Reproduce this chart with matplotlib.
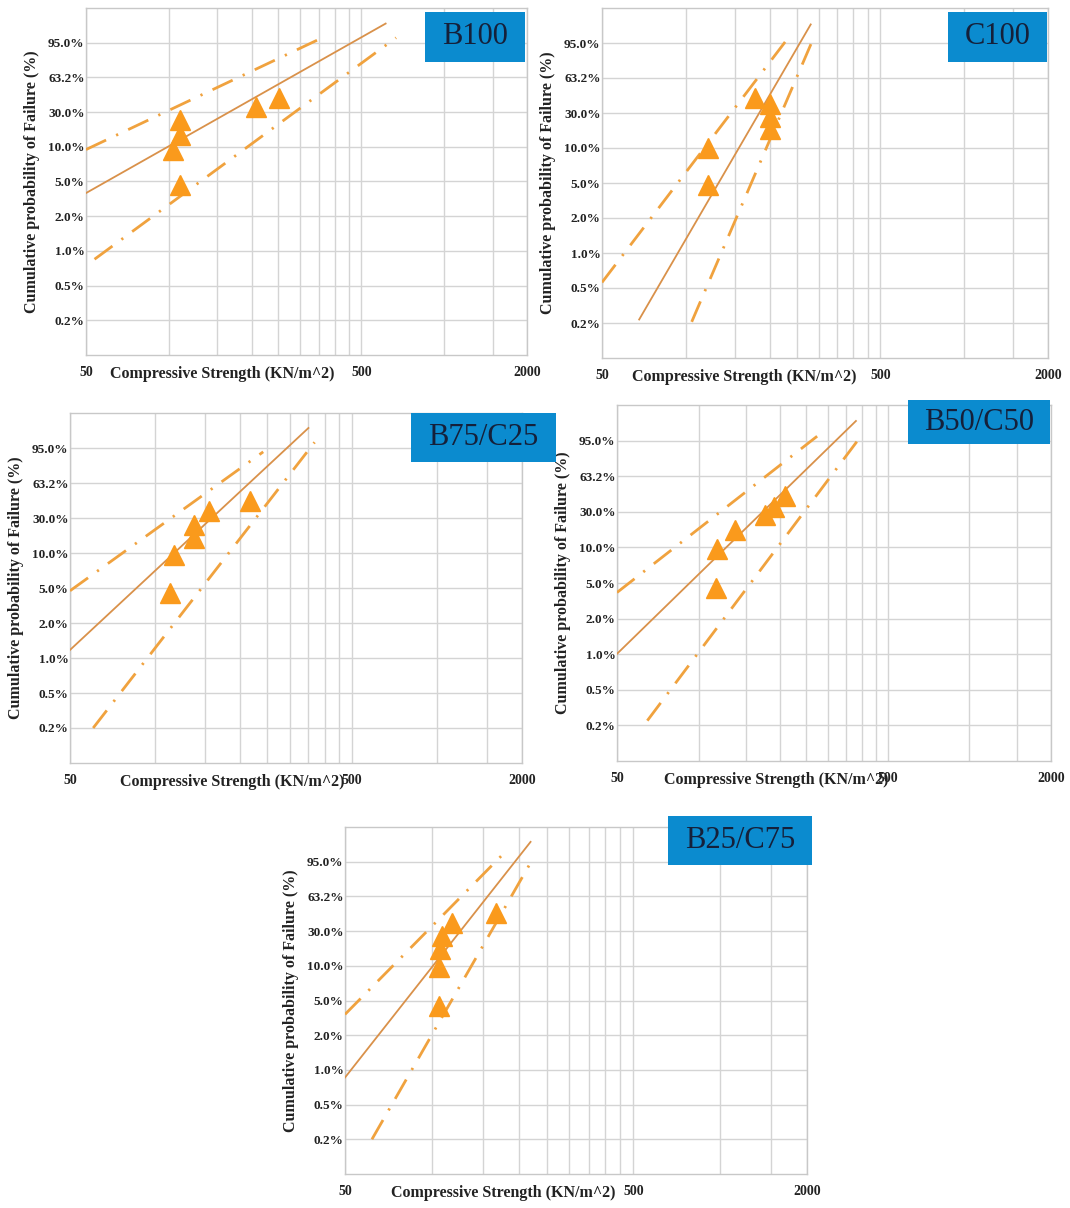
import numpy as np
import matplotlib
matplotlib.use("Agg")
import matplotlib.pyplot as plt
from matplotlib.patches import Rectangle

# probability paper: the labelled levels sit at equal steps on the y axis
prob_ticks = [0.2, 0.5, 1.0, 2.0, 5.0, 10.0, 30.0, 63.2, 95.0]
prob_labels = ["0.2%", "0.5%", "1.0%", "2.0%", "5.0%", "10.0%", "30.0%", "63.2%", "95.0%"]
x_ticks = [50, 500, 2000]
x_grid = [100, 150, 200, 250, 300, 350, 400, 450, 500, 1000, 1500]

# B100
b100_x = [103.7, 109.4, 110.0, 109.6, 206.7, 251.0]
b100_p = [9.5, 16.8, 25.4, 4.7, 35.2, 43.3]
b100_fit_x = [50, 613]
b100_fit_p = [4.0, 97.7]
b100_hi_x = [50, 352]
b100_hi_p = [9.6, 95.5]
b100_lo_x = [53.7, 669]
b100_lo_p = [0.88, 95.7]

# C100
c100_x = [120.3, 120.3, 177.0, 200.0, 200.0, 200.0]
c100_p = [10.0, 4.85, 44.3, 39.0, 27.7, 20.9]
c100_fit_x = [68, 281]
c100_fit_p = [0.23, 97.6]
c100_hi_x = [50, 231]
c100_hi_p = [0.58, 95.5]
c100_lo_x = [105, 287]
c100_lo_p = [0.21, 95.6]

# B75/C25
b75_x = [116.4, 113.3, 137.5, 137.5, 155.7, 217.0]
b75_p = [9.75, 4.57, 18.6, 26.2, 36.3, 45.7]
b75_fit_x = [50, 350]
b75_fit_p = [1.23, 97.8]
b75_hi_x = [50, 242]
b75_hi_p = [4.76, 91.5]
b75_lo_x = [60.4, 368]
b75_lo_p = [0.2, 95.8]

# B50/C50
b50_x = [116.8, 115.8, 136.6, 176.3, 189.3, 208.9]
b50_p = [9.76, 4.58, 20.0, 28.1, 34.7, 44.3]
b50_fit_x = [50, 381]
b50_fit_p = [1.01, 97.7]
b50_hi_x = [50, 274]
b50_hi_p = [4.2, 95.6]
b50_lo_x = [64.7, 403]
b50_lo_p = [0.24, 95.9]

# B25/C75
b25_x = [105.5, 105.5, 106.9, 108.3, 117.3, 166.9]
b25_p = [9.77, 4.55, 19.5, 27.1, 38.0, 47.6]
b25_fit_x = [50, 220]
b25_fit_p = [0.89, 97.8]
b25_hi_x = [50, 175]
b25_hi_p = [3.8, 95.9]
b25_lo_x = [62, 220]
b25_lo_p = [0.2, 94.0]

W, H = 1070, 1208
fig = plt.figure(figsize=(W / 100, H / 100), dpi=100)
fig.patch.set_facecolor("white")

# anchors for the piecewise probability axis (one extra step above and below)
anc_p = [0.05] + prob_ticks + [99.9]
anc_i = list(range(-1, len(prob_ticks) + 1))

def fwd(p):
    return np.interp(p, anc_p, anc_i)

def inv(i):
    return np.interp(i, anc_i, anc_p)

serif = ["Liberation Serif", "DejaVu Serif"]
grid_c = "#d4d4d4"
tri_c = "#fa9a1c"
fit_c = "#d9914a"
band_c = "#f0a23e"

# name, data, axes box (px: x0, y0, x1, y1), label box (px), x label position
panels = [
    ("B100", (b100_x, b100_p, b100_fit_x, b100_fit_p, b100_hi_x, b100_hi_p, b100_lo_x, b100_lo_p),
     (86, 8, 527, 355), (425, 12, 525, 62), 0.31),
    ("C100", (c100_x, c100_p, c100_fit_x, c100_fit_p, c100_hi_x, c100_hi_p, c100_lo_x, c100_lo_p),
     (602, 8, 1048, 358), (948, 12, 1047, 62), 0.32),
    ("B75/C25", (b75_x, b75_p, b75_fit_x, b75_fit_p, b75_hi_x, b75_hi_p, b75_lo_x, b75_lo_p),
     (70, 413, 522, 763), (411, 413, 556, 462), 0.36),
    ("B50/C50", (b50_x, b50_p, b50_fit_x, b50_fit_p, b50_hi_x, b50_hi_p, b50_lo_x, b50_lo_p),
     (617, 405, 1051, 761), (908, 400, 1050, 444), 0.366),
    ("B25/C75", (b25_x, b25_p, b25_fit_x, b25_fit_p, b25_hi_x, b25_hi_p, b25_lo_x, b25_lo_p),
     (345, 827, 807, 1174), (668, 816, 812, 865), 0.343),
]

for name, d, box, lab, xl in panels:
    x0, y0, x1, y1 = box
    ax = fig.add_axes([x0 / W, 1 - y1 / H, (x1 - x0) / W, (y1 - y0) / H])
    ax.set_xscale("log")
    ax.set_yscale("function", functions=(fwd, inv))
    ax.set_xlim(50, 2000)
    ax.set_ylim(0.05, 99.9)

    ax.set_xticks(x_ticks)
    ax.set_xticklabels([str(v) for v in x_ticks])
    ax.set_xticks(x_grid, minor=True)
    ax.xaxis.set_minor_formatter(matplotlib.ticker.NullFormatter())
    ax.set_yticks(prob_ticks)
    ax.set_yticklabels(prob_labels)
    ax.yaxis.set_minor_locator(matplotlib.ticker.NullLocator())
    ax.tick_params(which="both", length=0)
    ax.tick_params(axis="y", pad=1)
    ax.tick_params(axis="x", pad=8)
    for t in ax.get_xticklabels() + ax.get_yticklabels():
        t.set_fontfamily(serif)
        t.set_fontweight("bold")
        t.set_color("#222222")
    for t in ax.get_yticklabels():
        t.set_fontsize(9.5)
    for t in ax.get_xticklabels():
        t.set_fontsize(10)

    ax.grid(True, which="both", color=grid_c, lw=1)
    ax.set_axisbelow(True)
    for s in ax.spines.values():
        s.set_color("#c8c8c8")
        s.set_linewidth(1)

    px, pp, fx, fp, hx, hp, lx, lp = d
    ax.plot(fx, fp, color=fit_c, lw=1.3, zorder=3)
    ax.plot(hx, hp, color=band_c, lw=2.0, ls=(0, (8, 4, 0.8, 4)), zorder=3)
    ax.plot(lx, lp, color=band_c, lw=2.0, ls=(0, (8, 4, 0.8, 4)), zorder=3)
    ax.plot(px, pp, "^", ms=14, color=tri_c, mec=tri_c, zorder=4, clip_on=False)

    ax.set_ylabel("Cumulative probability of Failure (%)", family=serif,
                  fontweight="bold", fontsize=11.5, labelpad=6, color="#222222")
    ax.annotate("Compressive Strength (KN/m^2)", xy=(xl, 0), xycoords="axes fraction",
                xytext=(0, -8), textcoords="offset points", ha="center", va="top",
                family=serif, fontweight="bold", fontsize=11.5, color="#222222")

    bx0, by0, bx1, by1 = lab
    fig.add_artist(Rectangle((bx0 / W, 1 - by1 / H), (bx1 - bx0) / W, (by1 - by0) / H,
                             transform=fig.transFigure, fc="#0b8bcf", ec="none", zorder=5))
    fig.text((bx0 + bx1) / 2 / W, 1 - (by0 + by1) / 2 / H, name, ha="center", va="center",
             family=serif, fontsize=22, color="#15203a", zorder=6)

fig.savefig("out.png", dpi=100)
